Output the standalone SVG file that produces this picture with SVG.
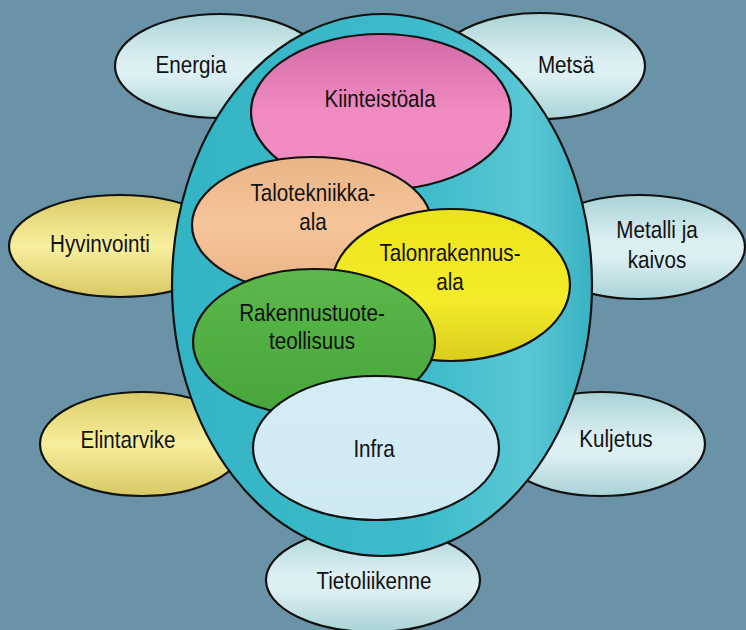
<svg xmlns="http://www.w3.org/2000/svg" width="746" height="630" viewBox="0 0 746 630">
<defs>
<linearGradient id="gCyan" x1="0" y1="0" x2="0" y2="1">
<stop offset="0" stop-color="#a9d3d6"/>
<stop offset="0.45" stop-color="#dceff3"/>
<stop offset="0.6" stop-color="#dceff3"/>
<stop offset="1" stop-color="#a9d3d6"/>
</linearGradient>
<linearGradient id="gYel" x1="0" y1="0" x2="0" y2="1">
<stop offset="0" stop-color="#d9cb66"/>
<stop offset="0.5" stop-color="#f8ef9e"/>
<stop offset="1" stop-color="#d8c865"/>
</linearGradient>
<linearGradient id="gBig" x1="0" y1="0" x2="1" y2="0">
<stop offset="0" stop-color="#33b4c4"/>
<stop offset="0.6" stop-color="#3ebbca"/>
<stop offset="0.85" stop-color="#5ac7d4"/>
<stop offset="1" stop-color="#38b2c2"/>
</linearGradient>
<linearGradient id="gPink" x1="0" y1="0" x2="0" y2="1">
<stop offset="0" stop-color="#d06aa6"/>
<stop offset="0.5" stop-color="#f18cc2"/>
<stop offset="1" stop-color="#ef8ac0"/>
</linearGradient>
<linearGradient id="gPeach" x1="0" y1="0" x2="0" y2="1">
<stop offset="0" stop-color="#e9b587"/>
<stop offset="0.5" stop-color="#f6c59a"/>
<stop offset="1" stop-color="#e8b285"/>
</linearGradient>
<linearGradient id="gYellow" x1="0" y1="0" x2="0" y2="1">
<stop offset="0" stop-color="#ece41a"/>
<stop offset="0.6" stop-color="#f5ec2a"/>
<stop offset="1" stop-color="#d9cc1c"/>
</linearGradient>
<linearGradient id="gGreen" x1="0" y1="0" x2="0" y2="1">
<stop offset="0" stop-color="#5cb84a"/>
<stop offset="1" stop-color="#47a53b"/>
</linearGradient>
<linearGradient id="gInfra" x1="0" y1="0" x2="0" y2="1">
<stop offset="0" stop-color="#d4edf5"/>
<stop offset="1" stop-color="#cfe9f2"/>
</linearGradient>
<style>
.e{stroke:#111;stroke-width:2.2}
.t{font-family:"Liberation Sans",Arial,sans-serif;font-size:24px;fill:#111;text-anchor:middle;dominant-baseline:central;transform-box:fill-box;transform-origin:center;transform:scaleX(0.86)}
</style>
</defs>
<rect width="746" height="630" fill="#6b93a8"/>

<g id="energia"><ellipse class="e" cx="220" cy="66" rx="105" ry="52" fill="url(#gCyan)"/><text class="t" x="191" y="65">Energia</text></g>
<g id="metsa"><ellipse class="e" cx="540" cy="66" rx="105" ry="53" fill="url(#gCyan)"/><text class="t" x="566" y="65">Metsä</text></g>
<g id="hyvinvointi"><ellipse class="e" cx="120" cy="246" rx="111" ry="51" fill="url(#gYel)"/><text class="t" x="100" y="244">Hyvinvointi</text></g>
<g id="metalli"><ellipse class="e" cx="639" cy="247" rx="106" ry="52" fill="url(#gCyan)"/><text class="t" x="657" y="230">Metalli ja</text><text class="t" x="657" y="260">kaivos</text></g>
<g id="elintarvike"><ellipse class="e" cx="142" cy="444" rx="102" ry="52" fill="url(#gYel)"/><text class="t" x="128" y="440">Elintarvike</text></g>
<g id="kuljetus"><ellipse class="e" cx="601" cy="444" rx="104" ry="52" fill="url(#gCyan)"/><text class="t" x="616" y="439">Kuljetus</text></g>
<g id="tietoliikenne"><ellipse class="e" cx="373" cy="580" rx="107" ry="52" fill="url(#gCyan)"/><text class="t" x="374" y="581">Tietoliikenne</text></g>

<g id="rakentaminen"><ellipse class="e" cx="382" cy="285" rx="210" ry="271" fill="url(#gBig)"/></g>

<g id="kiinteistoala"><ellipse class="e" cx="381" cy="112" rx="130" ry="78" fill="url(#gPink)"/><text class="t" x="380" y="99">Kiinteistöala</text></g>
<g id="talotekniikka"><ellipse class="e" cx="312" cy="225" rx="120" ry="68" fill="url(#gPeach)"/><text class="t" x="313" y="193">Talotekniikka-</text><text class="t" x="313" y="222">ala</text></g>
<g id="talonrakennus"><ellipse class="e" cx="451" cy="285" rx="119" ry="76" fill="url(#gYellow)"/><text class="t" x="450" y="253">Talonrakennus-</text><text class="t" x="450" y="282">ala</text></g>
<g id="rakennustuote"><ellipse class="e" cx="314" cy="342" rx="121" ry="73" fill="url(#gGreen)"/><text class="t" x="312" y="313">Rakennustuote-</text><text class="t" x="312" y="341">teollisuus</text></g>
<g id="infra"><ellipse class="e" cx="376" cy="448" rx="123" ry="72" fill="url(#gInfra)"/><text class="t" x="374" y="449">Infra</text></g>

<g id="connectors"></g>
</svg>
